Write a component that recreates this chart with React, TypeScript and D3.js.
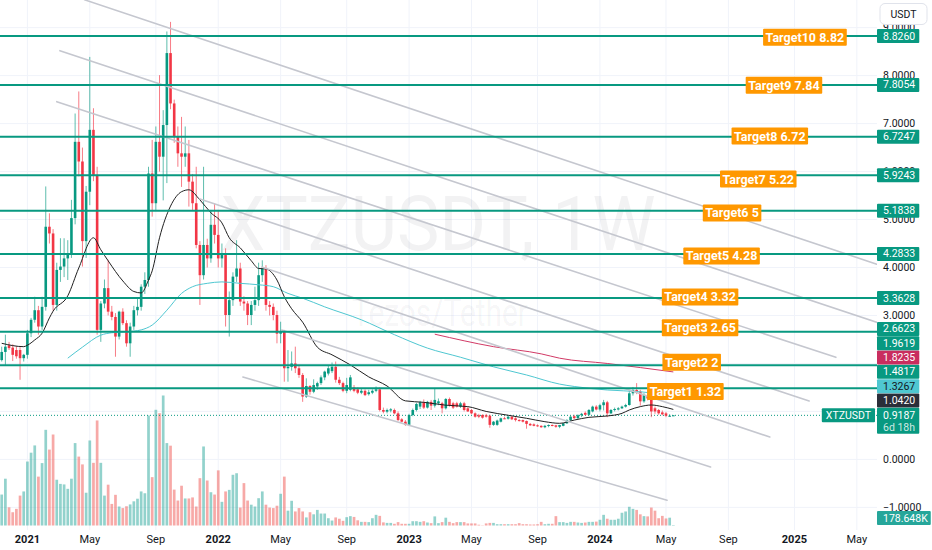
import { useEffect, useRef } from 'react';
import * as d3 from 'd3';

// ---------- DATA ----------
const firstWeek = '2020-11-16'; // weekly candles, one per Monday

// [open, high, low, close]
const ohlc: [number, number, number, number][] = [
  [2.07,2.35,2.04,2.24],[2.24,2.60,1.97,2.35],[2.38,2.45,2.28,2.32],[2.33,2.40,2.05,2.18],[2.28,2.36,2.10,2.15],
  [2.28,2.34,1.66,2.11],[2.11,2.20,2.04,2.18],[2.18,2.70,2.10,2.63],[2.63,2.95,2.55,2.91],[2.91,3.39,2.85,3.11],
  [3.11,3.20,2.60,2.77],[2.77,3.39,2.70,3.18],[3.18,5.69,3.10,4.85],[4.85,5.13,4.50,4.71],[4.71,4.80,3.10,3.22],
  [3.22,4.10,3.10,3.95],[3.95,4.61,3.70,4.02],[4.02,4.61,3.80,4.19],[4.19,4.57,3.74,4.30],[4.30,5.41,4.20,5.03],
  [5.03,7.21,4.90,6.62],[6.62,7.67,5.90,6.21],[6.21,6.50,4.02,4.55],[4.55,5.70,4.20,5.58],[5.58,8.39,5.30,6.87],
  [6.87,7.32,5.80,5.93],[5.93,6.10,2.60,2.70],[2.70,3.30,2.45,3.25],[3.25,3.75,3.15,3.57],[3.57,4.16,3.00,3.08],
  [3.08,3.20,2.90,2.97],[2.97,3.05,2.14,2.56],[2.56,3.10,2.50,3.08],[3.08,3.15,2.80,2.84],[2.84,2.90,2.35,2.42],
  [2.42,2.85,2.14,2.77],[2.77,3.20,2.70,3.11],[3.11,3.35,3.00,3.18],[3.18,3.65,3.10,3.60],[3.60,3.90,3.45,3.74],
  [3.74,6.10,3.60,5.96],[5.96,6.66,5.06,5.34],[5.34,6.94,5.20,6.62],[6.62,8.01,6.00,6.31],[6.31,7.28,5.40,6.97],
  [6.97,8.92,5.76,8.47],[8.47,9.12,7.30,7.42],[7.42,7.50,6.60,6.73],[6.73,6.94,6.10,6.38],[6.38,7.14,5.68,6.31],
  [6.31,6.94,6.10,6.38],[6.38,6.66,5.27,5.79],[5.79,5.95,5.20,5.34],[5.34,6.10,4.40,4.47],[4.47,4.55,3.22,3.84],
  [3.84,6.10,3.75,4.47],[4.47,4.60,4.00,4.19],[4.19,5.20,4.10,4.89],[4.89,5.34,4.50,4.68],[4.68,5.20,4.00,4.19],
  [4.19,4.50,4.00,4.26],[4.26,4.40,2.77,3.01],[3.01,3.50,2.56,3.32],[3.32,3.90,3.20,3.81],[3.81,4.57,3.70,3.98],
  [3.98,4.10,3.20,3.29],[3.29,3.40,3.10,3.25],[3.25,3.30,2.80,3.01],[3.01,3.30,2.80,3.22],[3.22,3.60,3.10,3.32],
  [3.32,4.10,3.20,3.84],[3.84,4.15,3.70,3.98],[3.98,4.05,3.10,3.22],[3.22,3.30,3.00,3.18],[3.18,3.25,2.90,3.01],
  [3.01,3.10,2.42,2.62],[2.62,2.87,2.42,2.66],[2.66,2.70,1.62,1.90],[1.90,2.28,1.62,1.93],[1.93,2.25,1.85,2.00],
  [2.00,2.35,1.80,1.90],[1.90,1.97,1.70,1.76],[1.76,1.80,1.20,1.31],[1.31,1.69,1.28,1.53],[1.53,1.55,1.35,1.41],
  [1.41,1.67,1.38,1.55],[1.52,1.62,1.45,1.59],[1.59,1.75,1.55,1.71],[1.71,1.85,1.65,1.83],[1.79,1.95,1.75,1.90],
  [1.84,2.02,1.80,1.93],[1.93,2.04,1.60,1.66],[1.66,1.72,1.55,1.59],[1.59,1.62,1.40,1.43],[1.43,1.70,1.38,1.55],
  [1.45,1.76,1.42,1.71],[1.50,1.55,1.40,1.43],[1.46,1.50,1.36,1.39],[1.39,1.47,1.36,1.43],[1.43,1.46,1.32,1.34],
  [1.36,1.45,1.33,1.40],[1.39,1.46,1.36,1.43],[1.43,1.52,1.40,1.46],[1.46,1.50,1.00,1.03],[1.03,1.08,0.96,0.995],
  [0.995,1.06,0.96,1.03],[1.02,1.07,0.98,1.044],[1.03,1.06,0.94,0.96],[0.96,1.00,0.80,0.82],[0.836,0.86,0.77,0.786],
  [0.786,0.82,0.70,0.72],[0.72,0.95,0.70,0.926],[0.926,1.06,0.90,1.03],[1.03,1.18,1.00,1.155],[1.10,1.22,1.05,1.19],
  [1.19,1.25,1.05,1.08],[1.08,1.22,1.06,1.20],[1.20,1.24,1.03,1.12],[1.12,1.48,1.08,1.24],[1.17,1.27,1.13,1.21],
  [1.17,1.20,0.96,1.065],[1.065,1.28,1.04,1.259],[1.259,1.29,1.10,1.134],[1.169,1.20,1.05,1.08],[1.169,1.20,1.08,1.10],
  [1.10,1.20,1.07,1.169],[1.169,1.20,1.00,1.03],[1.065,1.09,0.99,1.00],[1.03,1.05,0.94,0.96],[0.96,0.98,0.87,0.89],
  [0.92,0.95,0.86,0.89],[0.926,0.94,0.85,0.87],[0.92,0.95,0.87,0.89],[0.91,0.93,0.66,0.72],[0.72,0.80,0.70,0.786],
  [0.72,0.83,0.70,0.81],[0.786,0.87,0.77,0.857],[0.857,0.89,0.84,0.848],[0.848,0.91,0.83,0.89],[0.89,0.90,0.82,0.836],
  [0.857,0.88,0.79,0.82],[0.82,0.84,0.79,0.80],[0.82,0.83,0.77,0.786],[0.80,0.81,0.64,0.74],[0.74,0.76,0.70,0.71],
  [0.73,0.75,0.69,0.70],[0.71,0.73,0.68,0.69],[0.70,0.71,0.66,0.67],[0.67,0.72,0.65,0.70],[0.70,0.73,0.67,0.717],
  [0.717,0.73,0.69,0.70],[0.71,0.72,0.66,0.68],[0.68,0.72,0.65,0.717],[0.70,0.76,0.69,0.752],[0.752,0.84,0.74,0.82],
  [0.82,0.91,0.80,0.89],[0.90,0.93,0.84,0.86],[0.86,0.94,0.84,0.92],[0.92,0.97,0.88,0.95],[0.97,1.00,0.92,0.93],
  [0.93,1.05,0.91,1.03],[1.00,1.12,0.98,1.10],[1.10,1.13,1.02,1.04],[1.04,1.16,1.00,1.13],[1.13,1.24,1.02,1.19],
  [1.19,1.22,0.88,0.96],[0.96,1.05,0.94,1.03],[1.03,1.08,1.00,1.05],[1.04,1.09,1.02,1.065],[1.065,1.12,1.05,1.10],
  [1.10,1.16,1.08,1.134],[1.134,1.45,1.12,1.378],[1.378,1.51,1.33,1.447],[1.447,1.59,1.36,1.39],[1.41,1.45,1.12,1.21],
  [1.21,1.38,1.18,1.34],[1.34,1.45,1.23,1.27],[1.27,1.30,0.88,1.00],[1.065,1.10,0.95,1.00],[1.03,1.05,0.93,0.96],
  [0.98,1.02,0.92,0.94],[0.96,0.99,0.88,0.91],[0.905,0.94,0.89,0.91],[0.91,0.925,0.905,0.9187],
];

// weekly volume, millions of XTZ
const volumeM: number[] = [
  11.9,18.0,7.0,5.1,6.4,11.5,13.1,24.6,28.0,30.8,
  18.8,24.0,36.8,29.2,35.0,17.6,16.0,15.8,14.1,18.0,
  31.7,26.5,23.5,12.6,32.7,24.1,40.4,24.1,11.5,15.7,
  8.3,11.8,7.3,6.7,7.4,8.1,9.3,10.3,13.1,12.4,
  42.3,18.6,44.5,43.2,50.0,31.7,30.7,13.8,9.6,15.3,
  10.4,10.4,10.8,7.3,18.2,30.4,17.3,12.8,11.9,21.2,
  9.1,13.1,13.7,19.5,20.1,6.9,16.3,9.6,8.0,7.3,
  10.5,13.1,8.0,6.9,6.7,7.6,12.2,18.8,5.7,9.5,
  5.4,6.7,5.4,3.1,5.1,4.3,6.0,4.6,4.6,2.8,
  1.9,3.1,2.6,1.8,3.2,3.6,3.3,2.0,1.4,1.4,
  1.3,2.8,4.1,3.7,1.2,1.0,1.0,0.65,1.3,0.65,
  0.65,0.65,1.65,1.65,1.4,1.65,1.15,0.9,3.5,0.9,
  1.3,3.0,1.4,0.9,1.3,1.3,1.3,0.8,0.8,0.8,
  0.3,0.1,0.8,1.0,1.0,0.5,0.5,0.5,0.5,0.5,
  0.5,0.9,0.5,0.5,0.4,0.4,0.5,1.4,0.5,0.65,
  0.65,3.6,1.3,1.3,1.0,1.4,1.4,1.15,1.0,1.15,
  1.4,1.4,1.5,2.2,4.1,2.6,2.2,2.2,2.6,4.9,
  5.4,7.2,6.4,6.0,4.3,3.6,3.5,6.9,5.7,2.8,
  3.7,2.7,3.0,0.178648,
];

// moving averages: [week index, value]
const maBlack: [number, number][] = [
  [0,2.42],[6,2.35],[7,2.38],[9,2.49],[11,2.63],[13,2.95],[14,3.09],[18,3.41],[21,3.99],[25,4.62],
  [27,4.37],[29,4.14],[33,3.72],[36,3.50],[38,3.47],[40,3.74],[41,3.93],[43,4.62],[46,5.28],[49,5.58],
  [51,5.62],[54,5.41],[57,5.14],[60,4.93],[62,4.62],[65,4.41],[68,4.14],[70,3.98],[72,3.97],[75,3.74],
  [77,3.39],[79,3.14],[82,2.86],[86,2.34],[90,2.18],[95,1.97],[100,1.72],[105,1.53],[110,1.22],[115,1.19],
  [121,1.13],[127,1.10],[132,1.00],[138,0.92],[143,0.857],[148,0.786],[152,0.752],[156,0.82],[160,0.877],
  [165,0.905],[169,0.96],[171,1.03],[174,1.10],[177,1.134],[180,1.10],[183,1.042],
];
const maCyan: [number, number][] = [
  [18,2.11],[22,2.34],[27,2.59],[30,2.64],[34,2.66],[38,2.70],[41,2.80],[45,3.11],[49,3.46],[52,3.60],
  [56,3.67],[60,3.70],[65,3.67],[70,3.64],[74,3.60],[78,3.46],[82,3.36],[88,3.18],[98,2.91],[107,2.60],
  [116,2.32],[125,2.13],[134,1.93],[143,1.76],[152,1.57],[156,1.52],[165,1.447],[174,1.41],[183,1.3267],
];
const maRed: [number, number][] = [
  [118,2.61],[134,2.35],[147,2.20],[152,2.11],[165,2.00],[183,1.8235],
];

const targetValues = [8.826, 7.8054, 6.7247, 5.9243, 5.1838, 4.2833, 3.3628, 2.6623, 1.9619, 1.4817];
const targetNames = ['Target10 8.82','Target9 7.84','Target8 6.72','Target7 5.22','Target6 5','Target5 4.28','Target4 3.32','Target3 2.65','Target2 2','Target1 1.32'];
const targetLabelDates = ['2025-01-26','2024-12-17','2024-11-20','2024-10-29','2024-09-09','2024-08-20','2024-07-10','2024-07-10','2024-06-24','2024-06-12'];
const targetLabelValues = [8.80, 7.80, 6.74, 5.845, 5.137, 4.24, 3.386, 2.745, 2.024, 1.415];

// descending channel lines: [start date, start value, end date, end value]
const channelLines: [string, number, string, number][] = [
  ['2021-04-23', 9.58, '2025-06-12', 4.07],
  ['2021-03-07', 8.52, '2025-06-14', 2.85],
  ['2021-03-01', 7.457, '2025-03-26', 2.127],
  ['2021-11-29', 5.428, '2025-02-03', 1.217],
  ['2022-03-27', 4.011, '2024-11-20', 0.467],
  ['2022-05-04', 2.698, '2024-07-30', -0.158],
  ['2022-02-19', 1.718, '2024-05-08', -0.851],
];

// price ticks shown on the scale (2 and 1 are hidden under value labels)
const priceTicks = [9, 8, 7, 6, 5, 4, 3, 0, -1];
const gridTicks = [9, 8, 7, 6, 5, 4, 3, 2, 1, 0, -1];
const lastPrice = 0.9187;
const lastVolumeLabel = '178.648K';
const countdown = '6d 18h';
const tickYears = [2021, 2022, 2023, 2024, 2025];
const tickMonths = [0, 4, 8];

const FONT = 'Roboto, "Noto Sans", "DejaVu Sans", sans-serif';

export default function App() {
  const ref = useRef<SVGSVGElement>(null);
  useEffect(() => {
    const svg = d3.select(ref.current!);
    svg.selectAll('*').remove();
    const DAY = 86400000;
    const parse = (s: string) => new Date(s + 'T00:00:00Z');
    const t0 = parse(firstWeek).getTime();
    const weekDate = (i: number) => new Date(t0 + i * 7 * DAY);
    const PR = 877; // pane right edge
    const PB = 530; // pane bottom

    const x = d3.scaleUtc().domain([parse('2021-01-04'), parse('2022-01-03')]).range([27.4, 27.4 + 364 * 0.5243]);
    const y = d3.scaleLinear().domain([0, 8.826]).range([459.4, 36]);
    const yv = d3.scaleLinear().domain([0, 50]).range([525.5, 395.5]);

    svg.append('rect').attr('width', 932).attr('height', 550).attr('fill', '#ffffff');
    svg.append('defs').append('clipPath').attr('id', 'pane').append('rect')
      .attr('x', 0).attr('y', 0).attr('width', PR).attr('height', PB);

    // time ticks
    const timeTicks: { d: Date; label: string; year: boolean }[] = [];
    tickYears.forEach((yr) => tickMonths.forEach((m) => {
      const d = d3.utcMonday.ceil(new Date(Date.UTC(yr, m, 1)));
      if (d > parse('2025-06-01')) return;
      timeTicks.push({ d, label: m === 0 ? String(yr) : d3.utcFormat('%b')(d), year: m === 0 });
    }));

    const pane = svg.append('g').attr('clip-path', 'url(#pane)');
    // grid
    pane.append('g').selectAll('line').data(gridTicks).join('line')
      .attr('x1', 0).attr('x2', PR).attr('y1', (d) => y(d)).attr('y2', (d) => y(d))
      .attr('stroke', '#F0F3FA').attr('stroke-width', 1);
    pane.append('g').selectAll('line').data(timeTicks).join('line')
      .attr('x1', (d) => x(d.d)).attr('x2', (d) => x(d.d)).attr('y1', 0).attr('y2', PB)
      .attr('stroke', '#F0F3FA').attr('stroke-width', 1);

    // watermark
    pane.append('text').attr('x', 438).attr('y', 250).attr('text-anchor', 'middle')
      .attr('font-family', FONT).attr('font-size', 76).attr('fill', '#131722').attr('fill-opacity', 0.055)
      .attr('textLength', 435).attr('lengthAdjust', 'spacingAndGlyphs').text('XTZUSDT, 1W');
    pane.append('text').attr('x', 440).attr('y', 326).attr('text-anchor', 'middle')
      .attr('font-family', FONT).attr('font-size', 38).attr('fill', '#131722').attr('fill-opacity', 0.055)
      .attr('textLength', 176).attr('lengthAdjust', 'spacingAndGlyphs').text('Tezos/Tether');

    const idx = ohlc.map((_, i) => i);
    const up = (i: number) => ohlc[i][3] >= ohlc[i][0];

    // volume
    pane.append('g').selectAll('rect').data(idx).join('rect')
      .attr('x', (i) => x(weekDate(i)) - 1.35).attr('width', 2.7)
      .attr('y', (i) => yv(volumeM[i])).attr('height', (i) => Math.max(0, yv(0) - yv(volumeM[i])))
      .attr('fill', (i) => (up(i) ? 'rgba(38,166,154,0.5)' : 'rgba(239,83,80,0.5)'));

    // current price dotted line
    pane.append('line').attr('x1', 0).attr('x2', PR).attr('y1', y(lastPrice)).attr('y2', y(lastPrice))
      .attr('stroke', '#089981').attr('stroke-width', 1).attr('stroke-dasharray', '1,2');

    // candles
    const cg = pane.append('g');
    cg.selectAll('line').data(idx).join('line')
      .attr('x1', (i) => x(weekDate(i))).attr('x2', (i) => x(weekDate(i)))
      .attr('y1', (i) => y(ohlc[i][1])).attr('y2', (i) => y(ohlc[i][2]))
      .attr('stroke', (i) => (up(i) ? '#089981' : '#F23645')).attr('stroke-width', 1).attr('stroke-opacity', 0.65);
    cg.selectAll('rect').data(idx).join('rect')
      .attr('x', (i) => x(weekDate(i)) - 1.3).attr('width', 2.6)
      .attr('y', (i) => y(Math.max(ohlc[i][0], ohlc[i][3])))
      .attr('height', (i) => Math.max(1, Math.abs(y(ohlc[i][0]) - y(ohlc[i][3]))))
      .attr('fill', (i) => (up(i) ? '#089981' : '#F23645'));

    // moving averages
    const maLine = d3.line<[number, number]>().x((d) => x(weekDate(d[0]))).y((d) => y(d[1])).curve(d3.curveMonotoneX);
    pane.append('path').attr('d', maLine(maCyan)).attr('fill', 'none').attr('stroke', '#4FC7D1').attr('stroke-width', 1);
    pane.append('path').attr('d', maLine(maRed)).attr('fill', 'none').attr('stroke', '#D23A66').attr('stroke-width', 1);
    pane.append('path').attr('d', maLine(maBlack)).attr('fill', 'none').attr('stroke', '#202020').attr('stroke-width', 1);

    // channel lines
    pane.append('g').selectAll('line').data(channelLines).join('line')
      .attr('x1', (d) => x(parse(d[0]))).attr('y1', (d) => y(d[1]))
      .attr('x2', (d) => x(parse(d[2]))).attr('y2', (d) => y(d[3]))
      .attr('stroke', '#C5C7CF').attr('stroke-width', 1.6).attr('stroke-linecap', 'round');

    // target lines
    pane.append('g').selectAll('line').data(targetValues).join('line')
      .attr('x1', 0).attr('x2', PR).attr('y1', (d) => y(d)).attr('y2', (d) => y(d))
      .attr('stroke', '#089981').attr('stroke-width', 2);

    // target labels
    const tl = svg.append('g');
    targetNames.forEach((name, k) => {
      const cx = x(parse(targetLabelDates[k]));
      const cy = y(targetLabelValues[k]);
      const g = tl.append('g');
      const rect = g.append('rect').attr('fill', '#FF9800').attr('rx', 1);
      const t = g.append('text').attr('x', cx).attr('y', cy).attr('text-anchor', 'middle')
        .attr('dominant-baseline', 'central').attr('font-family', FONT).attr('font-size', 12.5)
        .attr('font-weight', 'bold').attr('fill', '#ffffff').text(name);
      const w = (t.node() as SVGTextElement).getComputedTextLength();
      rect.attr('x', cx - w / 2 - 2.5).attr('width', w + 5).attr('y', cy - 8.5).attr('height', 17);
    });

    // price scale tick labels
    const ax = svg.append('g');
    ax.selectAll('text').data(priceTicks).join('text')
      .attr('x', 883).attr('y', (d) => y(d)).attr('dominant-baseline', 'central')
      .attr('font-family', FONT).attr('font-size', 10.5).attr('fill', '#131722')
      .text((d) => (d < 0 ? '\u2212' : '') + Math.abs(d).toFixed(4));

    // price scale value labels
    const lastBlack = maBlack[maBlack.length - 1][1];
    const lastCyan = maCyan[maCyan.length - 1][1];
    const lastRed = maRed[maRed.length - 1][1];
    const labels = [
      ...targetValues.map((v) => ({ v, bg: '#089981', fg: '#ffffff' })),
      { v: lastRed, bg: '#C92D5F', fg: '#ffffff' },
      { v: lastCyan, bg: '#4FC7D1', fg: '#131722' },
      { v: lastBlack, bg: '#2A2E39', fg: '#ffffff' },
    ].sort((a, b) => a.v - b.v);
    const H = 14;
    const curY = y(lastPrice);
    let prevTop = curY - 7.6;
    const placed: { v: number; bg: string; fg: string; cy: number }[] = [];
    labels.forEach((l) => {
      let cy = y(l.v);
      if (cy + H / 2 > prevTop - 0.3) cy = prevTop - 0.3 - H / 2;
      prevTop = cy - H / 2;
      placed.push({ ...l, cy });
    });
    placed.forEach((l) => {
      const g = ax.append('g');
      const r = g.append('rect').attr('x', 877).attr('y', l.cy - H / 2).attr('height', H).attr('fill', l.bg).attr('rx', 1);
      const t = g.append('text').attr('x', 883).attr('y', l.cy).attr('dominant-baseline', 'central')
        .attr('font-family', FONT).attr('font-size', 10.5).attr('fill', l.fg).text(l.v.toFixed(4));
      const w = (t.node() as SVGTextElement).getComputedTextLength();
      r.attr('width', Math.max(40, w + 10));
    });
    // current price (two lines)
    {
      const g = ax.append('g');
      const r = g.append('rect').attr('x', 877).attr('y', curY - 7.6).attr('height', 26).attr('fill', '#089981').attr('rx', 1);
      const t = g.append('text').attr('x', 883).attr('y', curY).attr('dominant-baseline', 'central')
        .attr('font-family', FONT).attr('font-size', 10.5).attr('fill', '#ffffff').text(lastPrice.toFixed(4));
      g.append('text').attr('x', 883).attr('y', curY + 12.5).attr('dominant-baseline', 'central')
        .attr('font-family', FONT).attr('font-size', 10.5).attr('fill', '#ffffff').attr('fill-opacity', 0.8).text(countdown);
      const w = (t.node() as SVGTextElement).getComputedTextLength();
      r.attr('width', Math.max(40, w + 10));
      // symbol tag
      const sg = svg.append('g');
      const sr = sg.append('rect').attr('y', curY - 7).attr('height', 14).attr('fill', '#089981').attr('rx', 1);
      const st = sg.append('text').attr('x', 871).attr('y', curY).attr('text-anchor', 'end').attr('dominant-baseline', 'central')
        .attr('font-family', FONT).attr('font-size', 10.5).attr('fill', '#ffffff').text('XTZUSDT');
      const sw = (st.node() as SVGTextElement).getComputedTextLength();
      sr.attr('x', 875 - sw - 8).attr('width', sw + 8);
    }
    // last volume label
    {
      const vy = yv(volumeM[volumeM.length - 1]) - 7;
      const g = ax.append('g');
      const r = g.append('rect').attr('x', 877).attr('y', vy - 7).attr('height', H).attr('fill', '#26A69A').attr('rx', 1);
      const t = g.append('text').attr('x', 883).attr('y', vy).attr('dominant-baseline', 'central')
        .attr('font-family', FONT).attr('font-size', 10.5).attr('fill', '#ffffff').text(lastVolumeLabel);
      const w = (t.node() as SVGTextElement).getComputedTextLength();
      r.attr('width', w + 9);
    }
    // currency button
    ax.append('rect').attr('x', 880).attr('y', 3.5).attr('width', 47).attr('height', 21).attr('rx', 5)
      .attr('fill', '#ffffff').attr('stroke', '#E0E3EB');
    ax.append('text').attr('x', 903.5).attr('y', 14.2).attr('text-anchor', 'middle').attr('dominant-baseline', 'central')
      .attr('font-family', FONT).attr('font-size', 10.5).attr('fill', '#131722').text('USDT');

    // time axis labels
    svg.append('g').selectAll('text').data(timeTicks).join('text')
      .attr('x', (d) => x(d.d)).attr('y', 539).attr('text-anchor', 'middle').attr('dominant-baseline', 'central')
      .attr('font-family', FONT).attr('font-size', 11).attr('font-weight', (d) => (d.year ? 'bold' : 'normal'))
      .attr('fill', '#131722').text((d) => d.label);
  }, []);
  return <svg ref={ref} width={932} height={550} style={{ position: 'fixed', left: 0, top: 0, display: 'block' }} />;
}
